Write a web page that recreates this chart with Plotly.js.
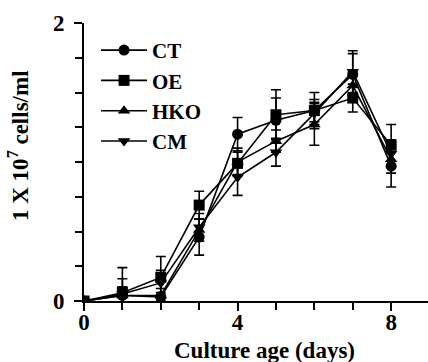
<!DOCTYPE html>
<html>
<head>
<meta charset="utf-8">
<script src="https://cdn.plot.ly/plotly-3.0.1.min.js"></script>
<style>html,body{margin:0;padding:0;background:#fff;}#chart{width:428px;height:362px;}</style>
</head>
<body>
<div id="chart"></div>
<script>
const days = [0, 1, 2, 3, 4, 5, 6, 7, 8];
const seriesNames = ["CT", "OE", "HKO", "CM"];
const ctValues  = [0.00, 0.04, 0.03, 0.46, 1.20, 1.30, 1.37, 1.63, 0.97];
const oeValues  = [0.00, 0.06, 0.17, 0.69, 0.99, 1.34, 1.37, 1.46, 1.12];
const hkoValues = [0.00, 0.04, 0.04, 0.51, 1.00, 1.15, 1.27, 1.55, 1.02];
const cmValues  = [0.00, 0.05, 0.13, 0.53, 0.89, 1.07, 1.35, 1.65, 1.06];
const ctErr  = [0.01, 0.06, 0.03, 0.13, 0.12, 0.16, 0.08, 0.15, 0.15];
const oeErr  = [0.01, 0.18, 0.15, 0.10, 0.08, 0.18, 0.13, 0.10, 0.15];
const hkoErr = [0.01, 0.06, 0.05, 0.08, 0.10, 0.08, 0.15, 0.10, 0.10];
const cmErr  = [0.01, 0.11, 0.09, 0.10, 0.13, 0.10, 0.08, 0.15, 0.10];
const symbols = ["circle", "square", "triangle-up", "triangle-down"];
const xTickVals = [0, 4, 8];
const xTickText = ["0", "4", "8"];
const yTickVals = [0, 2];
const yTickText = ["0", "2"];
const xTitle = "Culture age (days)";
const yTitle = "1 X 10<sup>7</sup> cells/ml";

const values = [ctValues, oeValues, hkoValues, cmValues];
const errs = [ctErr, oeErr, hkoErr, cmErr];
const fontFam = "'Liberation Serif', 'Times New Roman', serif";
const boldFont = (s) => ({family: fontFam, size: s, color: "black", weight: "bold"});

const traces = seriesNames.map((name, i) => ({
  x: days,
  y: values[i],
  name: name,
  type: "scatter",
  mode: "lines+markers",
  line: {color: "black", width: 1.6},
  marker: {symbol: symbols[i], size: 11, color: "black"},
  error_y: {type: "data", array: errs[i], visible: true, color: "black", thickness: 1.6, width: 5}
}));

const layout = {
  width: 428, height: 362,
  margin: {l: 84, r: 0, t: 23, b: 61},
  paper_bgcolor: "white", plot_bgcolor: "white",
  font: boldFont(24),
  showlegend: true,
  legend: {x: 0.035, y: 0.975, xanchor: "left", yanchor: "top", bgcolor: "rgba(0,0,0,0)",
           itemwidth: 46, font: boldFont(21)},
  xaxis: {
    range: [0, 8.96],
    tickvals: xTickVals, ticktext: xTickText,
    ticks: "outside", ticklen: 8, tickwidth: 2, tickcolor: "black",
    ticklabelstandoff: -9,
    showline: true, linecolor: "black", linewidth: 2,
    showgrid: false, zeroline: false,
    minor: {dtick: 1, tick0: 0, ticks: "outside", ticklen: 7, tickwidth: 2, tickcolor: "black", showgrid: false},
    tickfont: boldFont(23)
  },
  yaxis: {
    range: [0, 2],
    tickvals: yTickVals, ticktext: yTickText,
    ticks: "outside", ticklen: 8, tickwidth: 2, tickcolor: "black",
    ticklabelstandoff: 5,
    showline: true, linecolor: "black", linewidth: 2,
    showgrid: false, zeroline: false,
    minor: {dtick: 0.25, tick0: 0, ticks: "outside", ticklen: 7, tickwidth: 2, tickcolor: "black", showgrid: false},
    tickfont: boldFont(23)
  },
  annotations: [
    {text: xTitle, xref: "paper", yref: "paper", x: 0.526, y: -0.178,
     xanchor: "center", yanchor: "middle", showarrow: false, font: boldFont(23)},
    {text: yTitle, xref: "paper", yref: "paper", x: -0.192, y: 0.561, textangle: -90,
     xanchor: "center", yanchor: "middle", showarrow: false, font: boldFont(23)}
  ]
};

Plotly.newPlot("chart", traces, layout, {displayModeBar: false, staticPlot: true});
</script>
</body>
</html>
